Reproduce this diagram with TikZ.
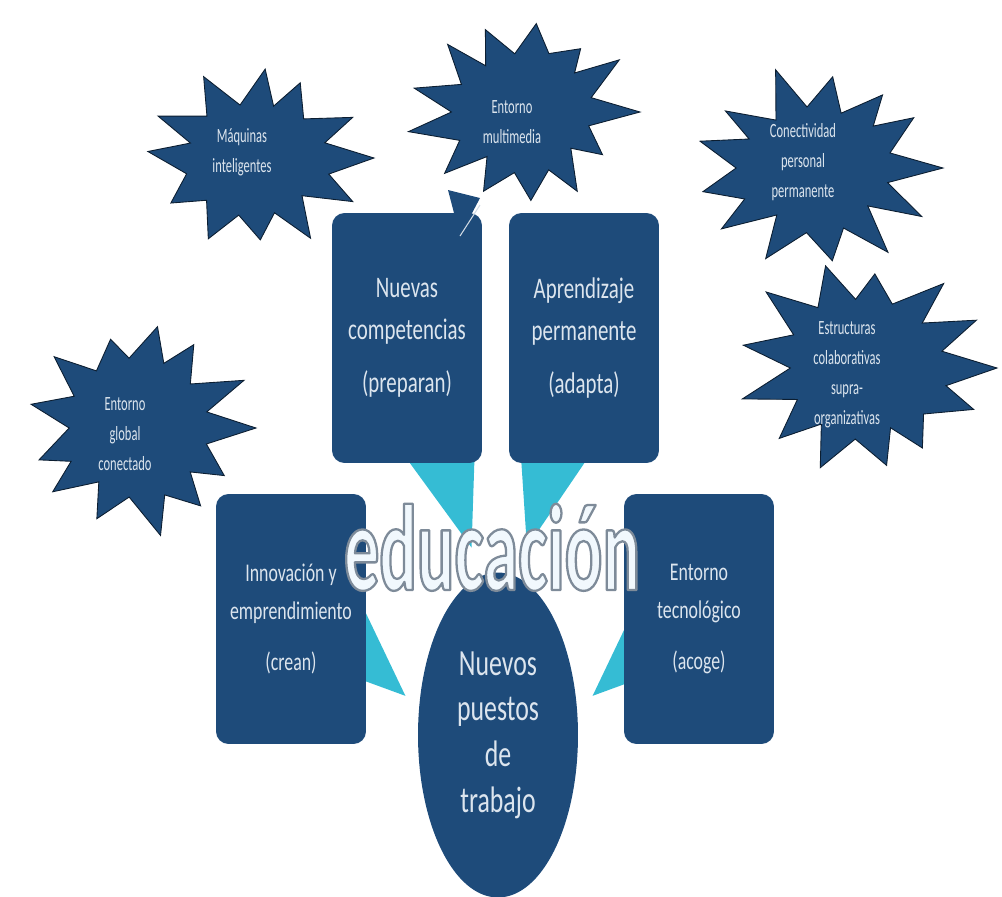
\documentclass[tikz,border=0pt]{standalone}
\usepackage{fontspec}
\setmainfont{Carlito}
\newfontfamily\boxfont[FakeStretch=0.7]{Carlito}
\newfontfamily\starfont[FakeStretch=0.62]{Carlito}
\newfontfamily\titlefont[FakeStretch=0.57]{Carlito}
\usetikzlibrary{calc,arrows.meta,shapes.geometric}
\definecolor{navy}{HTML}{1E4B7A}
\definecolor{arrowcyan}{HTML}{35BCD4}
\definecolor{paletext}{HTML}{DCE5EE}
\definecolor{edufill}{HTML}{F1F8FD}
% outlined text: fill + stroke (grey rim)
\def\outlined#1{\special{pdf:literal direct 0.494 0.545 0.6 RG 1.3 w 1 j 2 Tr}#1\special{pdf:literal direct 0 Tr}}
\def\explosion(#1)(#2:#3:#4:#5){%
  \pgfmathsetseed{#5}%
  \pgfmathtruncatemacro{\nlast}{#4-1}%
  \path[burst] ($(#1)+(0:{#2} and {#3})$)
    \foreach \k [evaluate=\k as \ro using {0.8+0.2*rnd},
                 evaluate=\k as \ri using {0.54+0.1*rnd},
                 evaluate=\k as \aj using {\k*360/#4+10*rnd-5}] in {1,...,\nlast}
      { -- ($(#1)+({(\k-0.5)*360/#4}:{#2*\ri} and {#3*\ri})$)
        -- ($(#1)+({\aj}:{#2*\ro} and {#3*\ro})$) }
    -- ($(#1)+({(#4-0.5)*360/#4}:{#2*0.6} and {#3*0.6})$) -- cycle;}

\begin{document}
\begin{tikzpicture}[x=0.02cm,y=-0.02cm,
    box/.style={rectangle, rounded corners=0.25cm, fill=navy, text=paletext, align=center,
      minimum width=3cm, minimum height=5cm, font=\boxfont\fontsize{17}{24}\selectfont},
    smallbox/.style={box, font=\boxfont\fontsize{14.5}{21.5}\selectfont},
    burst/.style={fill=navy, draw=black!60!navy, line width=0.5pt},
    bursttext/.style={text=paletext, align=center, font=\starfont\fontsize{11.5}{17}\selectfont},
    bigarrow/.style={draw=arrowcyan, line width=0.7cm, -{Triangle[length=2.3cm,width=1.15cm]}},
    sidearrow/.style={bigarrow, -{Triangle[length=2.2cm,width=1.5cm]}},
    title/.style={text=edufill, font=\titlefont\bfseries\fontsize{70}{70}\selectfont}]
  \useasboundingbox (0,0) rectangle (1002,897);

  %%% arrows (tails hidden under the boxes)
  \coordinate (aT1) at (407,338);  \coordinate (aH1) at (476,562);
  \coordinate (aT2) at (584,338);  \coordinate (aH2) at (523,562);
  \coordinate (aT3) at (300,600);  \coordinate (aH3) at (410,700);
  \coordinate (aT4) at (698,600);  \coordinate (aH4) at (588,700);
  \draw[bigarrow] (aT1) -- (aH1);
  \draw[bigarrow] (aT2) -- (aH2);
  \draw[sidearrow] (aT3) -- (aH3);
  \draw[sidearrow] (aT4) -- (aH4);

  %%% boxes
  \node[box] (comp) at (407,338) {Nuevas\\competencias\\[0.35em](preparan)};
  \node[box] (apren) at (584,338) {Aprendizaje\\permanente\\[0.35em](adapta)};
  \node[smallbox] (innov) at (291,619) {Innovación y\\emprendimiento\\[0.5em](crean)};
  \node[smallbox] (tecno) at (699,619) {Entorno\\tecnológico\\[0.5em](acoge)};

  %%% centre
  \node[ellipse, fill=navy, text=paletext, align=center, minimum width=3.2cm, minimum height=6.5cm,
    font=\boxfont\fontsize{21}{26}\selectfont] (puestos) at (498,735)
    {Nuevos\\puestos\\de\\trabajo};
  \node[title, anchor=base] (edu) at (492,590) {\outlined{educación}};

  %%% explosions
  \explosion(257,158)(117:98:12:11)
  \node[bursttext] (maquinas) at (242,152) {Máquinas\\inteligentes};

  \fill[navy] (448,190) -- (480,198) -- (460,236) -- cycle;
  \draw[white!80!navy, line width=0.6pt] (480,205) -- (460,236);
  \explosion(523,112)(117:100:13:23)
  \node[bursttext] (multi) at (512,122) {Entorno\\multimedia};

  \explosion(816,168)(127:105:13:37)
  \node[bursttext] (conect) at (803,162) {Conectividad\\personal\\permanente};

  \explosion(865,368)(132:117:13:5)
  \node[bursttext] (estruc) at (847,375) {Estructuras\\colaborativas\\supra-\\organizativas};

  \explosion(138,428)(118:112:13:19)
  \node[bursttext] (global) at (125,434) {Entorno\\global\\conectado};
\end{tikzpicture}
\end{document}
